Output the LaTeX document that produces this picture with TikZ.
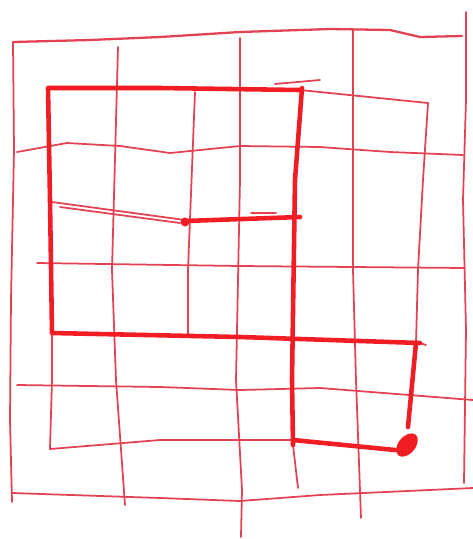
\documentclass[tikz,border=0pt]{standalone}
\usepackage{tikz}
\usepackage{xcolor}
\usetikzlibrary{calc}
\definecolor{gridred}{RGB}{226,66,82}
\definecolor{pathred}{RGB}{240,30,36}

\begin{document}
\begin{tikzpicture}[x=0.02cm, y=-0.02cm,
    gridline/.style={draw=gridred, line width=1pt, line cap=round, line join=round},
    mazeline/.style={draw=pathred, line width=2.6pt, line cap=round, line join=round}]
    \useasboundingbox (0,0) rectangle (473,539);

    % Outer border
    \draw[gridline, line width=1.3pt] (13,42) -- (90,40) -- (160,37) -- (240,32) -- (330,29) -- (390,30) -- (420,37) -- (462,36);
    \draw[gridline] (13,42) -- (14,150) -- (11,300) -- (10,420) -- (12,502);
    \draw[gridline] (466,12) -- (466,100) -- (463,200) -- (466,330) -- (464,483);
    \draw[gridline] (12,493) -- (160,498) -- (240,501) -- (320,495) -- (473,488);

    % Vertical grid lines
    \draw[gridline] (118,47) -- (112,270) -- (116,380) -- (125,505);
    \draw[gridline] (195,92) -- (188,270) -- (188,337);
    \draw[gridline] (240,38) -- (240,180) -- (236,380) -- (242,490) -- (241,537);
    \draw[gridline] (293,445) -- (298,488);
    \draw[gridline] (353,30) -- (353,270) -- (356,380) -- (361,518);
    \draw[gridline] (428,103) -- (423,180) -- (418,270) -- (416,343);
    \draw[gridline] (52,335) -- (52,380) -- (50,449);

    % Horizontal grid lines
    \draw[gridline] (17,152) -- (67,143) -- (120,146) -- (170,153) -- (240,146) -- (320,147) -- (390,152) -- (463,155);
    \draw[gridline] (52,202) -- (185,220);
    \draw[gridline] (60,207) -- (180,223);
    \draw[gridline] (251,213) -- (276,213);
    \draw[gridline] (37,263) -- (240,266) -- (465,268);
    \draw[gridline] (17,385) -- (160,387) -- (240,390) -- (320,388) -- (473,400);
    \draw[gridline] (50,449) -- (160,440) -- (293,440);
    \draw[gridline] (275,84) -- (320,80);
    \draw[gridline] (300,90) -- (428,103);
    \draw[gridline] (420,343) -- (426,345);

    % Thick path
    \draw[mazeline] (300,90) -- (160,88) -- (48,88) -- (50,200) -- (52,333) -- (240,337) -- (420,343);
    \draw[mazeline] (302,88) -- (295,180) -- (292,380) -- (293,445);
    \draw[mazeline] (293,440) -- (395,450);
    \draw[mazeline] (416,343) -- (408,427);
    \draw[mazeline] (185,221) -- (300,217);
    \fill[pathred] (185,222) circle (0.09cm);

    % End spot
    \fill[pathred, rotate around={50:(407,445)}] (407,445) ellipse [x radius=0.27cm, y radius=0.17cm];
\end{tikzpicture}
\end{document}
